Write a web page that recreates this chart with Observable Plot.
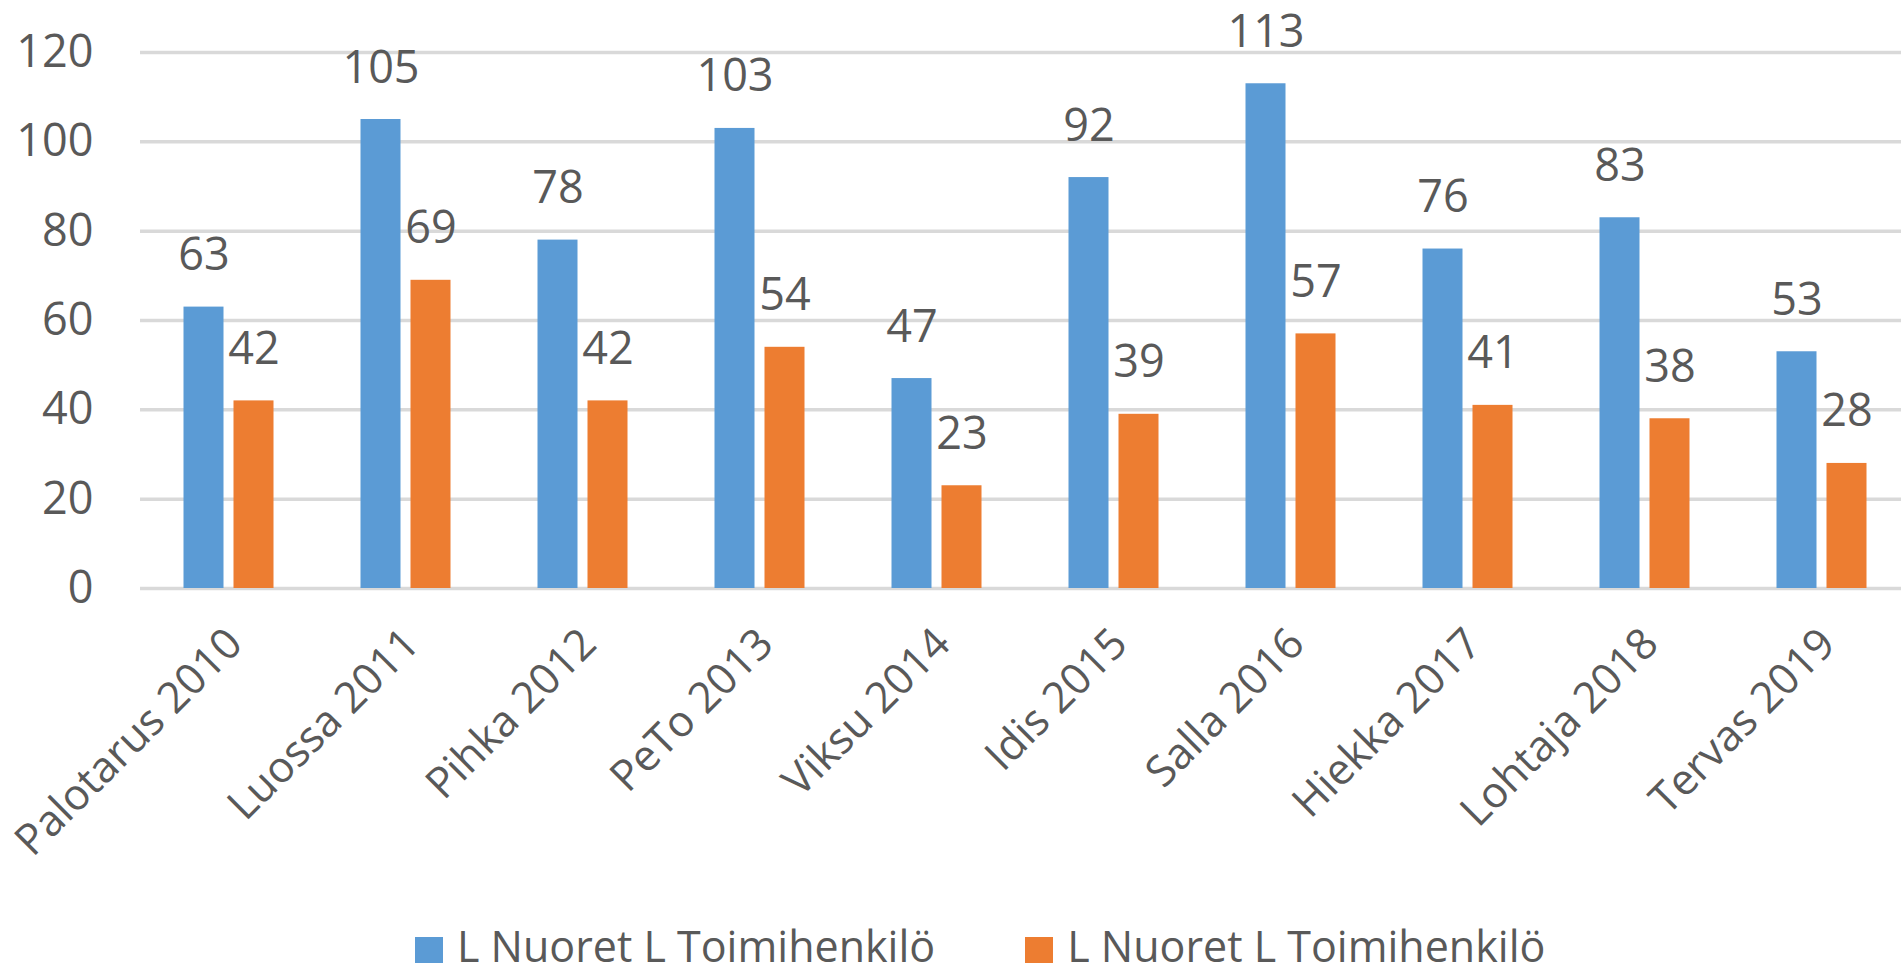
<!DOCTYPE html>
<html><head><meta charset="utf-8">
<script src="https://cdn.jsdelivr.net/npm/d3@7"></script>
<script src="https://cdn.jsdelivr.net/npm/@observablehq/plot@0.6"></script>
<style>
body{margin:0;background:#fff;font-family:"Open Sans",sans-serif;overflow:hidden;}
#chart svg{display:block;}
#legend{display:flex;align-items:center;height:58px;padding-left:415px;color:#595959;font-size:43px;line-height:58px;white-space:nowrap;}
.item{display:flex;align-items:center;margin-right:90px;}
.sw{width:28px;height:26px;margin-right:14px;flex:none;position:relative;top:4px;}
</style></head><body>
<div id="chart"></div><div id="legend"></div>
<script>
const categories = ["Palotarus 2010","Luossa 2011","Pihka 2012","PeTo 2013","Viksu 2014","Idis 2015","Salla 2016","Hiekka 2017","Lohtaja 2018","Tervas 2019"];
const nuoret = [63,105,78,103,47,92,113,76,83,53];
const toimihenkilot = [42,69,42,54,23,39,57,41,38,28];
const seriesNames = ["L Nuoret L Toimihenkilö","L Nuoret L Toimihenkilö"];
const seriesColors = ["#5B9BD5","#ED7D31"];
const yTicks = [0,20,40,60,80,100,120];

const series = [nuoret, toimihenkilot];
const data = categories.flatMap((c,i)=>series.map((vals,s)=>({category:c, series:s, value:vals[i]})));

const chart = Plot.plot({
  width:1901, height:917, marginTop:52, marginBottom:329, marginLeft:140, marginRight:-9,
  style:{fontFamily:"Open Sans", fontSize:"45px", color:"#595959", background:"#fff"},
  fx:{domain:categories, padding:0, label:null},
  x:{type:"band", domain:[0,1], paddingInner:0.2, paddingOuter:0.87, round:false, axis:null},
  y:{domain:[0,120], axis:null},
  color:{type:"ordinal", domain:[0,1], range:seriesColors},
  marks:[
    Plot.gridY(yTicks, {stroke:"#d9d9d9", strokeOpacity:1, strokeWidth:3.5}),
    Plot.axisY(yTicks, {tickSize:0, tickPadding:47, fontSize:45, fill:"#595959", label:null}),
    Plot.barY(data, {fx:"category", x:"series", y:"value", fill:"series"}),
    Plot.text(data, {fx:"category", x:"series", y:"value", text:"value", lineAnchor:"bottom", dy:-37, fill:"#595959", fontSize:45}),
    Plot.axisFx({anchor:"bottom", tickRotate:-45, tickSize:0, tickPadding:48, dx:6, fontSize:43, fill:"#595959", label:null})
  ]
});
document.getElementById("chart").append(chart);

const legend = d3.select("#legend");
seriesNames.forEach((name,i)=>{
  const it = legend.append("div").attr("class","item");
  it.append("div").attr("class","sw").style("background", seriesColors[i]);
  it.append("span").text(name);
});
</script>
</body></html>
